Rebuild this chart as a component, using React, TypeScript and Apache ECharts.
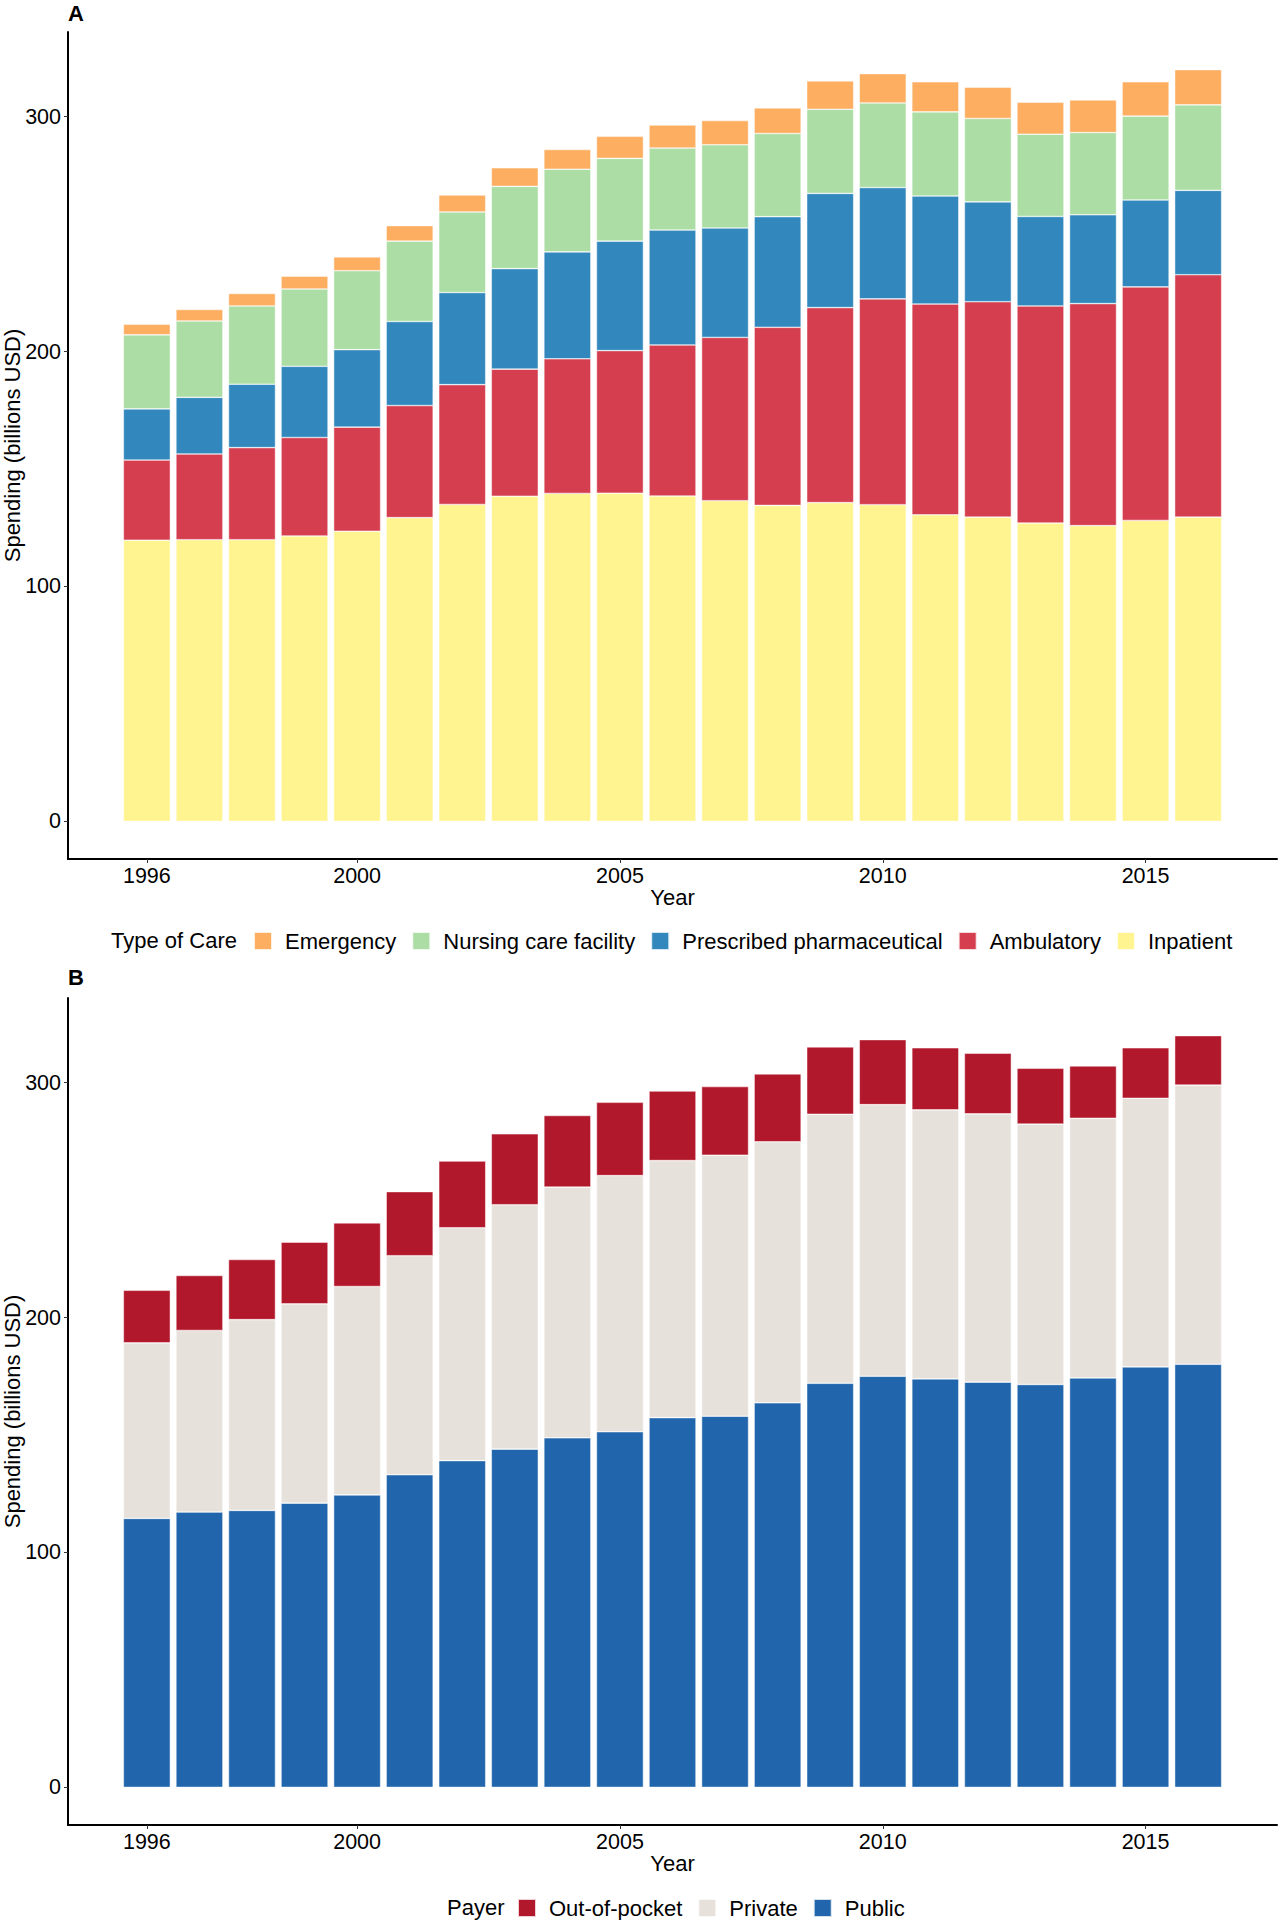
import React, { useEffect, useRef } from "react";
import * as echarts from "echarts";

const years = [1996, 1997, 1998, 1999, 2000, 2001, 2002, 2003, 2004, 2005, 2006, 2007, 2008, 2009, 2010, 2011, 2012, 2013, 2014, 2015, 2016];
// Axis spans half a year of padding + one empty year on each side (as in the original plot)
const axisYears = ["1995", "1996", "1997", "1998", "1999", "2000", "2001", "2002", "2003", "2004", "2005", "2006", "2007", "2008", "2009", "2010", "2011", "2012", "2013", "2014", "2015", "2016", "2017"];

// Panel A: type of care (billions USD)
const inpatient = [119.7, 119.9, 119.9, 121.5, 123.5, 129.3, 134.9, 138.4, 139.6, 139.7, 138.5, 136.5, 134.5, 135.7, 134.8, 130.5, 129.5, 127.0, 125.9, 128.1, 129.5];
const ambulatory = [34.1, 36.5, 39.2, 41.9, 44.3, 47.7, 51.0, 54.1, 57.3, 60.7, 64.3, 69.5, 75.8, 83.0, 87.6, 89.7, 91.7, 92.4, 94.5, 99.4, 103.2];
const pharmaceutical = [21.8, 24.1, 27.0, 30.3, 33.0, 35.8, 39.2, 42.8, 45.5, 46.6, 48.9, 46.6, 47.1, 48.6, 47.4, 46.0, 42.5, 38.1, 37.8, 37.0, 35.9];
const nursing = [31.5, 32.5, 33.3, 32.9, 33.6, 34.2, 34.3, 35.0, 35.2, 35.2, 34.9, 35.4, 35.4, 35.8, 36.0, 35.8, 35.5, 35.0, 35.0, 35.7, 36.4];
const emergency = [4.5, 4.9, 5.3, 5.5, 5.9, 6.6, 7.2, 7.9, 8.4, 9.4, 9.8, 10.3, 10.9, 12.1, 12.5, 12.8, 13.3, 13.6, 13.9, 14.6, 15.0];

// Panel B: payer (billions USD)
const publicPay = [114.5, 117.2, 117.9, 121.0, 124.5, 133.1, 139.1, 144.0, 148.8, 151.4, 157.4, 158.0, 163.7, 172.0, 175.0, 173.9, 172.5, 171.5, 174.3, 179.0, 180.1];
const privatePay = [74.7, 77.3, 81.2, 84.8, 88.7, 93.2, 99.1, 104.0, 106.7, 109.0, 109.4, 111.1, 111.1, 114.5, 115.6, 114.5, 114.2, 110.8, 110.5, 114.3, 118.8];
const outOfPocket = [22.4, 23.4, 25.6, 26.3, 27.1, 27.3, 28.4, 30.2, 30.5, 31.2, 29.6, 29.2, 28.9, 28.7, 27.7, 26.4, 25.8, 23.8, 22.3, 21.5, 21.1];

const xTicks = [1996, 2000, 2005, 2010, 2015];
const yTicks = [0, 100, 200, 300];

const FONT = "'Liberation Sans', Arial, sans-serif";

export default function App() {
  const ref = useRef<HTMLDivElement>(null);

  useEffect(() => {
    document.body.style.margin = "0";
    const chart = echarts.init(ref.current as HTMLDivElement, null, { renderer: "svg" });

    const showTick = (_i: number, v: string) => xTicks.includes(Number(v));

    const makeX = (gi: number) => ({
      type: "category",
      gridIndex: gi,
      data: axisYears,
      boundaryGap: true,
      name: "Year",
      nameLocation: "middle",
      nameGap: 27,
      nameMoveOverlap: false,
      nameTextStyle: { fontSize: 22, color: "#000", fontFamily: FONT },
      axisLine: { show: true, onZero: false, lineStyle: { color: "#000", width: 2 } },
      axisTick: { show: true, length: 4, alignWithLabel: true, interval: showTick, lineStyle: { color: "#333", width: 1 } },
      axisLabel: { interval: showTick, fontSize: 21.5, color: "#000", margin: 6, fontFamily: FONT },
      splitLine: { show: false },
    });
    const makeY = (gi: number) => ({
      type: "value",
      gridIndex: gi,
      min: -16,
      max: 336,
      name: "Spending (billions USD)",
      nameLocation: "middle",
      nameGap: 45,
      nameRotate: 90,
      nameMoveOverlap: false,
      nameTextStyle: { fontSize: 22, color: "#000", fontFamily: FONT },
      axisLine: { show: true, onZero: false, lineStyle: { color: "#000", width: 2 } },
      axisTick: { show: true, length: 4, customValues: yTicks, lineStyle: { color: "#333", width: 1 } },
      axisLabel: { customValues: yTicks, fontSize: 21.5, color: "#000", margin: 7, fontFamily: FONT },
      splitLine: { show: false },
    });

    const bar = (name: string, values: number[], color: string, gi: number, stack: string) => ({
      name,
      type: "bar",
      xAxisIndex: gi,
      yAxisIndex: gi,
      stack,
      barWidth: 47,
      data: axisYears.map((y) => {
        const i = years.indexOf(Number(y));
        return i >= 0 ? values[i] : "-";
      }),
      itemStyle: { color, borderColor: "rgba(255,255,255,0.8)", borderWidth: 0.6 },
    });

    const legendCommon = {
      orient: "horizontal",
      icon: "rect",
      padding: 0,
      itemWidth: 18,
      itemHeight: 18,
      itemGap: 15,
      textStyle: { fontSize: 22, color: "#000", fontFamily: FONT, padding: [0, 0, 0, 8] },
      selectedMode: false,
    };

    const option = {
      animation: false,
      backgroundColor: "#fff",
      grid: [
        { left: 68, top: 32, width: 1209, height: 827, containLabel: false, outerBoundsMode: "none" },
        { left: 68, top: 998, width: 1209, height: 827, containLabel: false, outerBoundsMode: "none" },
      ],
      xAxis: [makeX(0), makeX(1)],
      yAxis: [makeY(0), makeY(1)],
      legend: [
        {
          ...legendCommon,
          left: 253,
          top: 930,
          data: ["Emergency", "Nursing care facility", "Prescribed pharmaceutical", "Ambulatory", "Inpatient"],
        },
        {
          ...legendCommon,
          left: 517,
          top: 1897,
          data: ["Out-of-pocket", "Private", "Public"],
        },
      ],
      graphic: [
        { type: "text", left: 68, top: 2, style: { text: "A", fontSize: 22, fontWeight: "bold", fill: "#000", fontFamily: FONT } },
        { type: "text", left: 68, top: 966, style: { text: "B", fontSize: 22, fontWeight: "bold", fill: "#000", fontFamily: FONT } },
        { type: "text", x: 111, y: 940, style: { text: "Type of Care", fontSize: 22, fill: "#000", fontFamily: FONT, verticalAlign: "middle" } },
        { type: "text", x: 447, y: 1907, style: { text: "Payer", fontSize: 22, fill: "#000", fontFamily: FONT, verticalAlign: "middle" } },
      ],
      series: [
        bar("Inpatient", inpatient, "#FFF48F", 0, "care"),
        bar("Ambulatory", ambulatory, "#D53E4F", 0, "care"),
        bar("Prescribed pharmaceutical", pharmaceutical, "#3288BD", 0, "care"),
        bar("Nursing care facility", nursing, "#ABDDA4", 0, "care"),
        bar("Emergency", emergency, "#FDAE61", 0, "care"),
        bar("Public", publicPay, "#2166AC", 1, "payer"),
        bar("Private", privatePay, "#E7E1DC", 1, "payer"),
        bar("Out-of-pocket", outOfPocket, "#B2182B", 1, "payer"),
      ],
    };

    chart.setOption(option as any);
    return () => chart.dispose();
  }, []);

  return <div ref={ref} style={{ width: 1280, height: 1920 }} />;
}
